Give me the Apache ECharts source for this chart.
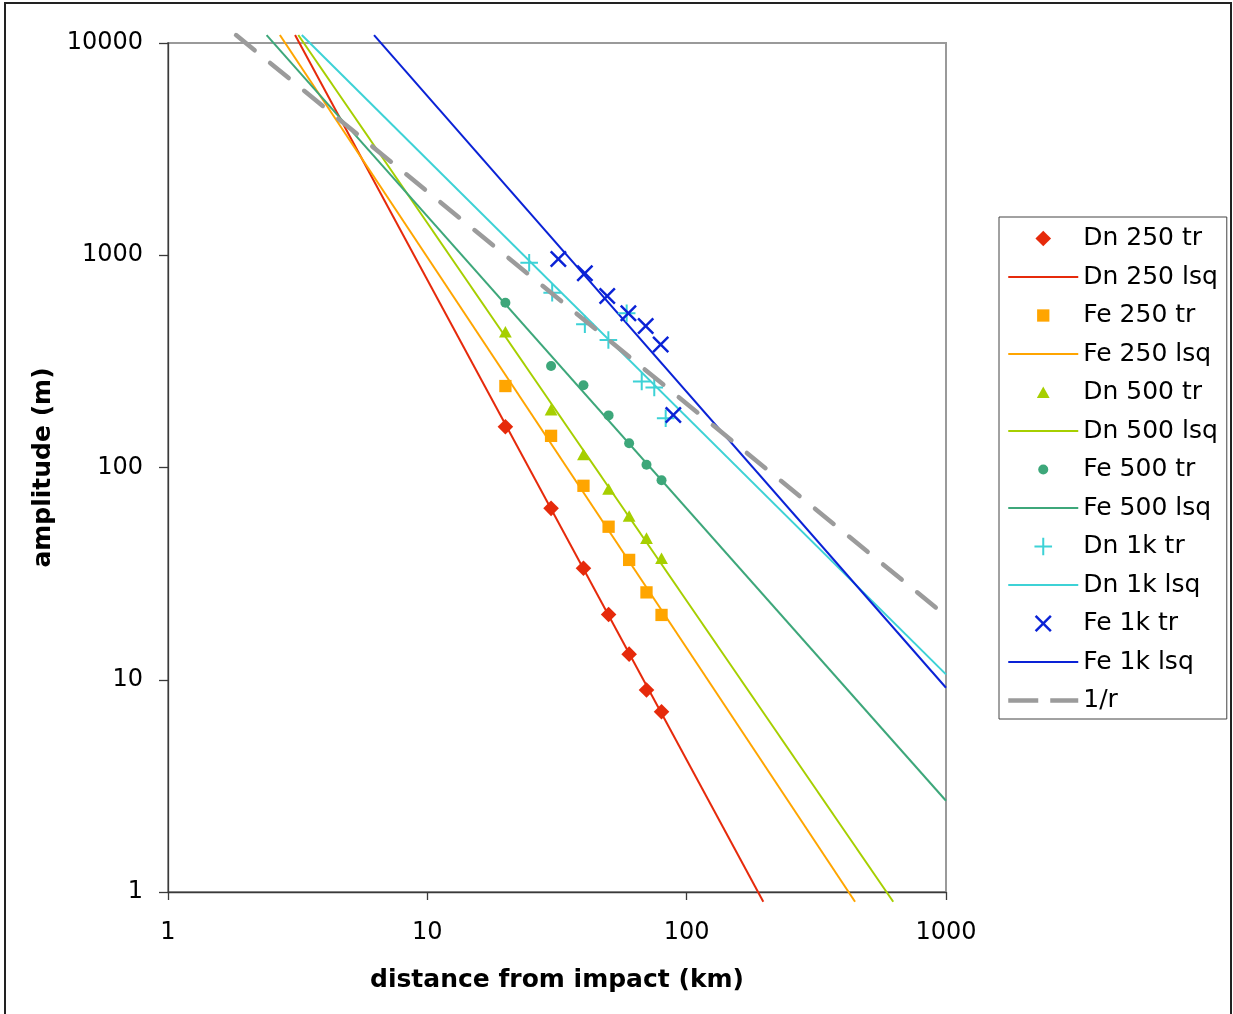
<!DOCTYPE html>
<html><head><meta charset="utf-8">
<script src="https://cdn.jsdelivr.net/npm/echarts@6/dist/echarts.min.js"></script>
<style>html,body{margin:0;padding:0;background:#fff}#c{width:1233px;height:1014px}</style>
</head><body><div id="c"></div>
<script>
// ---- data ----
const xTicks = [1, 10, 100, 1000];
const yTicks = [1, 10, 100, 1000, 10000];

const dist7 = [20, 30, 40, 50, 60, 70, 80];
const dn250Tr = [155.6, 64.2, 33.5, 20.3, 13.2, 8.95, 7.07];
const fe250Tr = [242, 141, 82, 52.6, 36.7, 25.8, 20.2];
const dn500Tr = [435, 187, 115, 79, 59, 46.4, 37.3];
const fe500Tr = [597, 301, 244, 176, 130, 103, 87];
const dn1kDist = [24.7, 30.3, 40.5, 49.9, 58.7, 67.1, 75.0, 83.0];
const dn1kTr = [922, 666, 473, 399, 533, 254, 238, 170.5];
const fe1kDist = [32, 40.5, 49.4, 59.6, 69.5, 79.4, 88.8];
const fe1kTr = [960, 822, 643, 533, 464, 380, 176.7];

// least-squares fit lines: end points
const dn250Lsq = [[3.09, 10900], [197.5, 0.9]];
const fe250Lsq = [[2.70, 10900], [446, 0.9]];
const dn500Lsq = [[3.18, 10900], [626, 0.9]];
const fe500Lsq = [[2.40, 10900], [1000, 2.69]];
const dn1kLsq = [[3.28, 10900], [1000, 10.6]];
const fe1kLsq = [[6.23, 10900], [1000, 9.17]];
const oneOverR = [[1.83, 10900], [1000, 20]];

// ---- styling ----
const FONT = 'DejaVu Sans';
const C = {
  dn250: '#E62A0B', fe250: '#FFA500', dn500: '#A6CF00', fe500: '#3DA77A',
  dn1k: '#3DD2D6', fe1k: '#0A22D6', r: '#9B9B9B'
};
const PAD = 'M0,0M18,18';
const SYM = {
  diamond: 'path://' + PAD + 'M9,1.2L16.8,9L9,16.8L1.2,9Z',
  square: 'path://' + PAD + 'M2.85,2.85L15.15,2.85L15.15,15.15L2.85,15.15Z',
  triangle: 'path://' + PAD + 'M9,3L15.4,14.6L2.6,14.6Z',
  circle: 'path://' + PAD + 'M14,9A5,5,0,1,1,4,9A5,5,0,1,1,14,9Z',
  plus: 'path://' + PAD + 'M8,0.2L10,0.2L10,8L17.8,8L17.8,10L10,10L10,17.8L8,17.8L8,10L0.2,10L0.2,8L8,8Z',
  cross: (function () {
    const a = 0.5, b = 17.5, k = 1.75, m = 9;
    const p = [[a, a + k], [a + k, a], [m, m - k], [b - k, a], [b, a + k], [m + k, m],
               [b, b - k], [b - k, b], [m, m + k], [a + k, b], [a, b - k], [m - k, m]];
    return 'path://' + PAD + 'M' + p.map(q => q[0] + ',' + q[1]).join('L') + 'Z';
  })()
};

function scatter(name, xs, ys, sym, color) {
  return {
    name, type: 'scatter', data: xs.map((x, i) => [x, ys[i]]),
    symbol: sym, symbolSize: 18, itemStyle: { color: color, opacity: 1 },
    emphasis: { disabled: true }, z: 3
  };
}
function line(name, pts, color, extra) {
  return Object.assign({
    name, type: 'line', data: pts, symbol: 'none', clip: false,
    lineStyle: { color: color, width: 2 }, itemStyle: { color: color },
    emphasis: { disabled: true }, z: 2
  }, extra || {});
}

const series = [
  scatter('Dn 250 tr', dist7, dn250Tr, SYM.diamond, C.dn250),
  line('Dn 250 lsq', dn250Lsq, C.dn250),
  scatter('Fe 250 tr', dist7, fe250Tr, SYM.square, C.fe250),
  line('Fe 250 lsq', fe250Lsq, C.fe250),
  scatter('Dn 500 tr', dist7, dn500Tr, SYM.triangle, C.dn500),
  line('Dn 500 lsq', dn500Lsq, C.dn500),
  scatter('Fe 500 tr', dist7, fe500Tr, SYM.circle, C.fe500),
  line('Fe 500 lsq', fe500Lsq, C.fe500),
  scatter('Dn 1k tr', dn1kDist, dn1kTr, SYM.plus, C.dn1k),
  line('Dn 1k lsq', dn1kLsq, C.dn1k),
  scatter('Fe 1k tr', fe1kDist, fe1kTr, SYM.cross, C.fe1k),
  line('Fe 1k lsq', fe1kLsq, C.fe1k),
  line('1/r', oneOverR, C.r, {
    lineStyle: { color: C.r, width: 4.5, type: [24, 20], cap: 'round' }, z: 4
  })
];

function legLine(name, color, ls) {
  return {
    name: name,
    itemStyle: { color: 'rgba(0,0,0,0)', opacity: 0, borderWidth: 0 },
    lineStyle: Object.assign({ color: color, width: 2, type: 'solid', opacity: 1 }, ls || {})
  };
}

const axisCommon = {
  type: 'log', logBase: 10,
  axisLine: { show: true, lineStyle: { color: '#3a3a3a', width: 1.3 } },
  axisTick: { show: true, inside: false, lineStyle: { color: '#3a3a3a', width: 1.3 } },
  splitLine: { show: false },
  minorTick: { show: false },
  nameLocation: 'middle',
  nameTextStyle: { fontFamily: FONT, fontSize: 25, fontWeight: 'bold', color: '#000' }
};

const chart = echarts.init(document.getElementById('c'), null, { renderer: 'canvas' });
chart.setOption({
  animation: false,
  backgroundColor: '#fff',
  textStyle: { fontFamily: FONT },
  graphic: [{
    type: 'rect', silent: true, z: -10,
    shape: { x: 5, y: 3, width: 1226, height: 1040 },
    style: { fill: 'none', stroke: '#222', lineWidth: 2 }
  }],
  grid: {
    left: 168, top: 43, width: 778, height: 849,
    show: true, borderColor: '#9a9a9a', borderWidth: 2, backgroundColor: 'transparent',
    containLabel: false, outerBoundsMode: 'none'
  },
  xAxis: Object.assign({}, axisCommon, {
    min: xTicks[0], max: xTicks[xTicks.length - 1],
    name: 'distance from impact (km)', nameGap: 76,
    axisTick: Object.assign({}, axisCommon.axisTick, { length: 8 }),
    axisLabel: {
      fontFamily: FONT, fontSize: 24, color: '#000', margin: 29,
      formatter: v => String(Math.round(v))
    }
  }),
  yAxis: Object.assign({}, axisCommon, {
    min: yTicks[0], max: yTicks[yTicks.length - 1],
    name: 'amplitude (m)', nameGap: 98,
    axisTick: Object.assign({}, axisCommon.axisTick, { length: 9 }),
    axisLabel: {
      fontFamily: FONT, fontSize: 24, color: '#000', margin: 25,
      formatter: v => String(Math.round(v))
    }
  }),
  legend: {
    orient: 'vertical', left: 999, top: 217,
    itemWidth: 70, itemHeight: 18, itemGap: 13.5, itemTextGap: 7,
    padding: [9, 9, 6, 7],
    borderColor: '#444', borderWidth: 1, backgroundColor: '#fff',
    selectedMode: false,
    textStyle: { fontFamily: FONT, fontSize: 25, color: '#000', lineHeight: 24 },
    data: [
      { name: 'Dn 250 tr', icon: SYM.diamond },
      legLine('Dn 250 lsq', C.dn250),
      { name: 'Fe 250 tr', icon: SYM.square },
      legLine('Fe 250 lsq', C.fe250),
      { name: 'Dn 500 tr', icon: SYM.triangle },
      legLine('Dn 500 lsq', C.dn500),
      { name: 'Fe 500 tr', icon: SYM.circle },
      legLine('Fe 500 lsq', C.fe500),
      { name: 'Dn 1k tr', icon: SYM.plus },
      legLine('Dn 1k lsq', C.dn1k),
      { name: 'Fe 1k tr', icon: SYM.cross },
      legLine('Fe 1k lsq', C.fe1k),
      legLine('1/r', C.r, { width: 4.5, type: [30, 12], cap: 'butt' })
    ]
  },
  series: series
});
</script>
</body></html>
